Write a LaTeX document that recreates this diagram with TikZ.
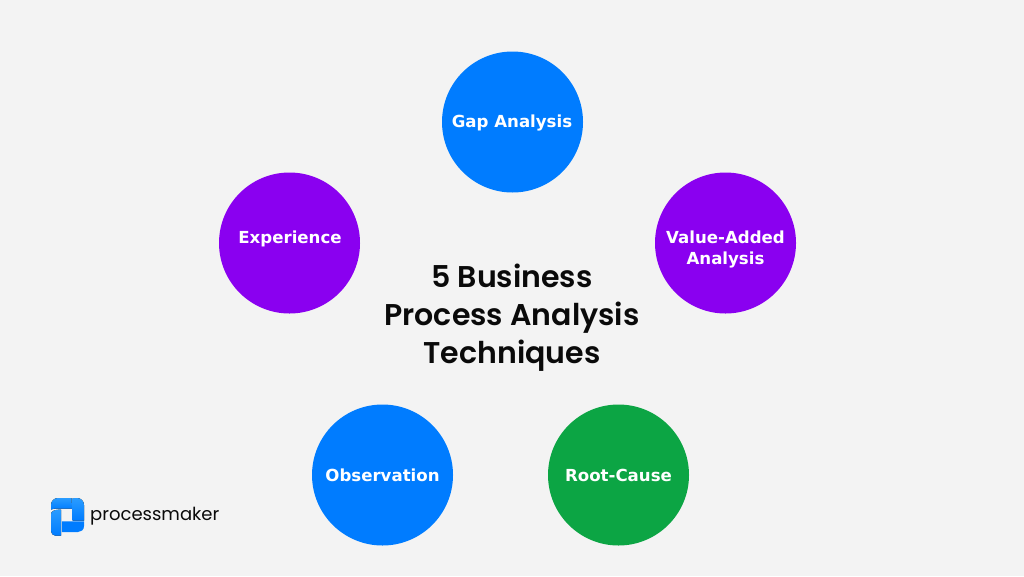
\documentclass[tikz,border=0pt]{standalone}
\usepackage{fontspec}
\setmainfont{DejaVu Sans}
\newfontfamily\titlefont[BoldFont={Poppins SemiBold}]{Poppins}
\definecolor{bg}{HTML}{F3F3F3}
\definecolor{cblue}{HTML}{007CFF}
\definecolor{lblue}{HTML}{2A9CFF}
\definecolor{cpurple}{HTML}{8A00F0}
\definecolor{cgreen}{HTML}{0CA544}
\definecolor{ink}{HTML}{0A0A0A}
\tikzset{
  topic/.style={circle,minimum size=141pt,inner sep=0pt},
  topictext/.style={text=white,align=center,inner sep=0pt,font=\bfseries\fontsize{16.6}{21}\selectfont},
  headline/.style={align=center,text=ink,font=\titlefont\bfseries\fontsize{30}{38}\selectfont},
  wordmark/.style={anchor=west,inner sep=0pt,text=ink,font=\titlefont\fontsize{18}{22}\selectfont},
  logopart/.style={top color=lblue,bottom color=cblue,draw=none},
}
\begin{document}
\begin{tikzpicture}[x=1pt,y=-1pt]
\useasboundingbox (0,0) rectangle (1024,576);
\fill[bg] (0,0) rectangle (1024,576);
\node[topic,fill=cblue] (gap) at (512.5,122) {};
\node[topic,fill=cpurple] (exp) at (289.5,243) {};
\node[topic,fill=cpurple] (val) at (725.5,243) {};
\node[topic,fill=cblue] (obs) at (382.5,475) {};
\node[topic,fill=cgreen] (root) at (618.5,475) {};
\node[topictext] (gapt) at (512,122.5) {Gap Analysis};
\node[topictext] (expt) at (290,238.5) {Experience};
\node[topictext] (valt) at (725.5,249.5) {Value-Added\\Analysis};
\node[topictext] (obst) at (382.5,475.5) {Observation};
\node[topictext] (roott) at (618.5,475.5) {Root-Cause};
\node[headline] (title) at (512,317.5) {5 Business\\Process Analysis\\Techniques};
% logo mark
\fill[logopart] (51,509.5) -- (51,505) .. controls (51,501) and (54,498) .. (58,498) -- (71.5,498) -- (72,508.5) -- (60,508.5) .. controls (56,508.5) and (53,508.5) .. (51,509.5) -- cycle;
\fill[logopart] (72.5,498) -- (77,498) .. controls (81,498) and (84,501) .. (84,505) -- (84,520.5) -- (72.5,520.5) -- cycle;
\fill[logopart] (51,514) .. controls (51,511.5) and (54,509.5) .. (61,509.5) -- (61,535.5) -- (55,535.5) .. controls (53,535.5) and (51,533.5) .. (51,531) -- cycle;
\fill[cblue] (61.8,521.3) -- (84,521.3) -- (84,526) .. controls (84,530) and (81,532) .. (78,532) -- (61.8,532) -- cycle;
\node[wordmark] (logo) at (90,516.5) {processmaker};
\end{tikzpicture}
\end{document}
